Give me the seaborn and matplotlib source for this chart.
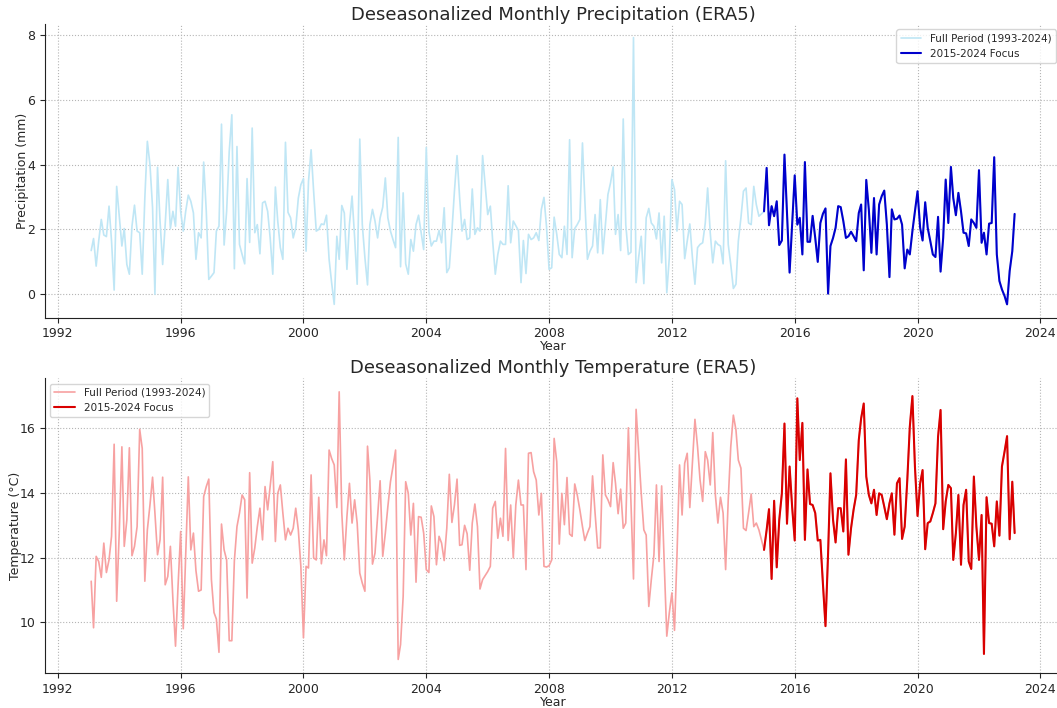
import numpy as np
import pandas as pd
import matplotlib
matplotlib.use("Agg")
import matplotlib.pyplot as plt
import seaborn as sns

start_month = "1993-02-01"
focus_start = "2015-01-01"

precip = [
    1.35,1.72,0.87,1.64,2.31,1.83,1.78,2.72,1.64,0.13,3.33,2.41,
    1.49,2.03,0.92,0.62,2.1,2.75,1.95,1.9,0.62,2.97,4.72,4.0,
    2.67,0.0,3.92,2.26,0.92,2.15,3.54,2.03,2.56,2.1,3.92,2.56,
    1.95,2.56,3.06,2.87,2.51,1.08,1.9,1.74,4.08,2.56,0.46,0.56,
    0.67,1.95,2.1,5.25,1.52,2.56,4.41,5.54,0.79,4.56,1.54,1.23,
    0.94,3.57,1.6,5.13,1.9,2.15,1.25,2.82,2.87,2.56,1.74,0.62,
    3.31,2.26,1.44,1.08,4.69,2.53,2.36,1.74,2.05,2.97,3.38,3.57,
    1.33,3.49,4.46,3.18,1.95,2.0,2.17,2.15,2.44,1.08,0.36,-0.31,
    1.79,1.08,2.74,2.51,0.77,2.15,3.03,1.74,0.31,4.79,2.15,1.13,
    0.29,2.15,2.62,2.26,1.74,2.36,2.69,3.59,2.36,1.95,1.69,1.44,
    4.84,0.85,3.13,0.94,0.62,1.69,1.33,2.15,2.44,1.9,1.38,4.53,
    1.95,1.49,1.64,1.64,1.97,1.59,2.67,0.67,0.82,1.95,3.18,4.28,
    2.97,1.95,2.31,1.69,1.74,3.25,1.85,2.05,1.95,4.28,3.38,2.46,
    2.72,1.64,0.62,1.23,1.64,1.54,1.54,3.35,1.59,2.26,2.12,1.97,
    0.36,1.66,0.64,1.85,1.69,1.74,1.9,1.66,2.62,2.99,2.1,0.77,
    0.82,2.38,1.85,1.23,1.13,2.1,1.23,4.77,1.13,2.03,2.15,2.31,
    4.67,2.92,1.08,1.33,1.49,2.46,1.28,2.92,1.25,2.15,3.08,3.44,
    3.93,1.85,2.46,1.35,5.41,2.15,1.23,1.3,7.92,0.36,1.13,1.79,
    0.33,2.36,2.65,2.2,2.1,1.71,2.51,0.97,2.41,0.05,1.13,3.54,
    3.23,1.95,2.87,2.77,1.1,1.64,2.17,1.13,0.31,1.44,1.54,1.59,
    2.2,3.28,1.9,0.97,1.64,1.54,1.49,0.94,4.12,1.54,0.92,0.18,
    0.31,1.64,2.36,3.18,3.28,2.2,2.15,3.33,2.77,2.41,2.48,2.56,
    3.9,2.13,2.72,2.41,2.87,1.52,1.66,4.31,2.51,0.67,2.15,3.67,
    2.15,2.36,1.23,4.08,1.62,1.62,2.42,1.74,1.0,2.2,2.48,2.65,
    0.02,1.49,1.74,2.05,2.72,2.69,2.26,1.74,1.79,1.93,1.79,1.64,
    2.51,2.77,0.74,3.53,2.6,1.28,2.97,1.23,2.77,3.03,3.2,2.15,
    0.53,2.62,2.31,2.33,2.43,2.15,0.8,1.38,1.23,1.95,2.56,3.18,
    2.05,1.66,2.84,2.05,1.64,1.23,1.15,2.39,0.7,1.74,3.54,2.2,
    3.93,2.97,2.44,3.13,2.56,1.9,1.88,1.49,2.31,2.2,2.05,3.83,
    1.59,1.9,1.23,2.18,2.2,4.23,1.23,0.41,0.15,-0.05,-0.31,0.72,
    1.33,2.48,
]

temperature = [
    11.27,9.83,12.04,11.88,11.39,12.45,11.54,11.93,12.66,15.51,10.65,12.8,
    15.43,12.35,13.17,15.4,12.06,12.35,12.96,15.97,15.38,11.27,12.86,
    13.63,14.49,13.38,12.09,12.55,14.49,11.16,11.42,12.35,10.7,9.26,11.11,
    12.81,9.8,12.1,14.5,12.24,12.76,11.6,10.96,11.0,13.89,14.2,14.43,
    11.32,10.3,10.1,9.07,13.04,12.24,11.93,9.43,9.43,11.9,12.96,13.38,
    13.94,13.79,10.75,14.63,11.83,12.3,12.96,13.53,12.55,14.2,13.48,14.2,
    14.97,12.5,13.99,14.25,13.38,12.55,12.91,12.7,12.91,13.53,12.86,11.73,
    9.52,11.73,11.68,14.56,11.99,11.93,13.87,11.81,12.55,12.06,15.33,15.07,
    14.87,13.55,17.13,13.38,11.93,13.27,14.3,13.07,13.79,13.07,11.52,11.21,
    10.96,15.45,14.4,11.8,12.14,13.27,14.38,12.04,12.76,13.58,14.35,14.82,
    15.33,8.85,9.31,10.8,14.35,13.99,12.7,13.68,11.24,13.27,13.25,12.76,
    11.63,11.54,13.6,13.27,11.78,12.66,12.45,11.91,12.91,14.58,13.09,13.63,
    14.43,12.38,12.4,13.0,12.74,11.61,13.07,13.66,12.96,11.03,11.32,11.44,
    11.57,11.73,13.53,13.74,12.6,13.22,12.66,15.38,12.53,13.63,11.99,13.63,
    14.4,13.63,13.63,11.63,15.23,15.25,14.66,14.4,13.32,13.99,11.73,11.71,
    11.75,11.93,15.69,14.97,12.42,13.99,13.02,14.48,12.73,12.66,14.28,13.94,
    13.48,12.96,12.53,12.76,12.96,14.53,13.38,12.3,12.3,15.18,13.94,13.79,
    13.58,14.94,14.3,13.36,14.12,12.91,13.07,16.02,13.7,11.34,16.59,15.33,
    13.99,12.86,12.7,10.49,11.32,12.09,14.25,11.88,14.22,11.88,9.57,10.29,
    10.91,9.75,12.04,14.87,13.32,14.92,15.23,13.55,14.92,16.28,15.43,14.4,
    13.74,15.28,15.02,14.25,15.87,13.94,13.07,13.87,13.38,11.63,13.79,15.43,
    16.41,15.95,15.02,14.77,12.91,12.84,13.38,13.97,12.96,13.07,12.86,12.55,
    12.24,12.86,13.5,11.34,13.76,11.7,13.17,13.99,16.15,13.05,14.82,13.58,
    12.53,16.93,15.02,16.17,12.55,14.73,13.66,13.63,13.38,12.53,12.55,11.21,
    9.88,12.14,14.61,13.17,12.47,13.53,13.53,12.81,15.04,12.09,12.91,13.48,
    13.94,15.64,16.31,16.77,14.51,13.94,13.68,14.1,13.32,13.99,13.94,13.58,
    13.19,13.68,13.99,12.71,14.3,14.46,12.58,12.96,14.4,16.05,17.0,14.82,
    13.29,14.3,14.71,12.26,13.07,13.12,13.38,13.68,15.74,16.57,12.88,13.74,
    14.25,14.15,11.93,12.76,13.94,11.78,13.63,14.1,11.88,11.65,14.51,12.96,
    11.93,13.32,9.02,13.87,13.07,13.05,12.35,13.74,12.68,14.82,15.28,
    15.76,12.57,14.35,12.76,
]

n = min(len(precip), len(temperature))
dates = pd.date_range(start_month, periods=n, freq="MS")
df = pd.DataFrame({"date": dates, "precip": precip[:n], "temp": temperature[:n]})
focus = df[df["date"] >= pd.Timestamp(focus_start)]

sns.set_style("ticks")
plt.rcParams.update({
    "font.family": ["DejaVu Sans"],
    "axes.grid": True,
    "grid.linestyle": ":",
    "grid.color": "#b5b5b5",
    "grid.linewidth": 0.8,
    "axes.edgecolor": "#222222",
    "xtick.direction": "out",
    "ytick.direction": "out",
    "xtick.major.size": 3.5,
    "ytick.major.size": 3.5,
})

fig = plt.figure(figsize=(10.57, 7.08), dpi=100)
ax1 = fig.add_axes([0.0426, 0.5513, 0.961, 0.4144])
ax2 = fig.add_axes([0.0426, 0.0497, 0.961, 0.4157])

sns.lineplot(data=df, x="date", y="precip", ax=ax1, color="#bfe6f5", linewidth=1.2,
             label="Full Period (1993-2024)")
sns.lineplot(data=focus, x="date", y="precip", ax=ax1, color="#0000cc", linewidth=1.5,
             label="2015-2024 Focus")
ax1.set_title("Deseasonalized Monthly Precipitation (ERA5)", fontsize=13, pad=3)
ax1.set_xlabel("Year", fontsize=9)
ax1.set_ylabel("Precipitation (mm)", fontsize=9)
ax1.legend(loc="upper right", fontsize=7.5)

sns.lineplot(data=df, x="date", y="temp", ax=ax2, color="#f7a1a1", linewidth=1.2,
             label="Full Period (1993-2024)")
sns.lineplot(data=focus, x="date", y="temp", ax=ax2, color="#d90000", linewidth=1.5,
             label="2015-2024 Focus")
ax2.set_title("Deseasonalized Monthly Temperature (ERA5)", fontsize=13, pad=4)
ax2.set_xlabel("Year", fontsize=9)
ax2.set_ylabel("Temperature (°C)", fontsize=9)
ax2.legend(loc="upper left", fontsize=7.5)

for ax in (ax1, ax2):
    sns.despine(ax=ax)
    ax.tick_params(labelsize=9)
    ax.xaxis.labelpad = 0
    ax.yaxis.labelpad = -1.5

fig.savefig("out.png", dpi=100)
